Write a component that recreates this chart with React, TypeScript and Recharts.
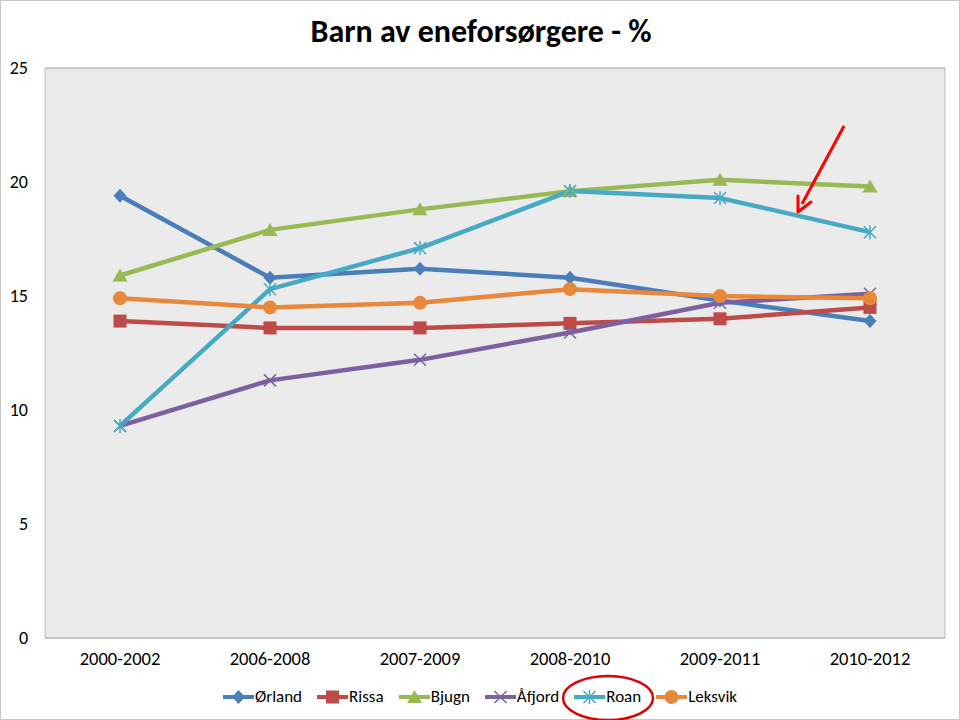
import React from "react";
import {
  LineChart,
  Line,
  CartesianGrid,
  XAxis,
  YAxis,
  Legend,
} from "recharts";

const categories = ["2000-2002", "2006-2008", "2007-2009", "2008-2010", "2009-2011", "2010-2012"];
const orland = [19.4, 15.8, 16.2, 15.8, 14.8, 13.9];
const rissa = [13.9, 13.6, 13.6, 13.8, 14.0, 14.5];
const bjugn = [15.9, 17.9, 18.8, 19.6, 20.1, 19.8];
const afjord = [9.3, 11.3, 12.2, 13.4, 14.7, 15.1];
const roan = [9.3, 15.3, 17.1, 19.6, 19.3, 17.8];
const leksvik = [14.9, 14.5, 14.7, 15.3, 15.0, 14.9];
const yTicks = [0, 5, 10, 15, 20, 25];

const FONT = "Carlito, Calibri, Lato, 'Open Sans', sans-serif";

type Shape = "diamond" | "square" | "triangle" | "x" | "star" | "circle";

const series: { key: string; name: string; color: string; shape: Shape; values: number[] }[] = [
  { key: "orland", name: "Ørland", color: "#4A7EBB", shape: "diamond", values: orland },
  { key: "rissa", name: "Rissa", color: "#BE4B48", shape: "square", values: rissa },
  { key: "bjugn", name: "Bjugn", color: "#98B954", shape: "triangle", values: bjugn },
  { key: "afjord", name: "Åfjord", color: "#7D60A0", shape: "x", values: afjord },
  { key: "roan", name: "Roan", color: "#46AAC5", shape: "star", values: roan },
  { key: "leksvik", name: "Leksvik", color: "#E9883B", shape: "circle", values: leksvik },
];

const data = categories.map((c, i) => {
  const row: Record<string, string | number> = { cat: c };
  series.forEach((s) => (row[s.key] = s.values[i]));
  return row;
});

function marker(shape: Shape, color: string, cx: number, cy: number, k?: string) {
  switch (shape) {
    case "diamond":
      return <path key={k} d={`M${cx},${cy - 7}L${cx + 6.5},${cy}L${cx},${cy + 7}L${cx - 6.5},${cy}Z`} fill={color} />;
    case "square":
      return <rect key={k} x={cx - 6.5} y={cy - 6.5} width={13} height={13} fill={color} />;
    case "triangle":
      return <path key={k} d={`M${cx},${cy - 7}L${cx + 7.5},${cy + 6}L${cx - 7.5},${cy + 6}Z`} fill={color} />;
    case "x":
      return (
        <path key={k} d={`M${cx - 6},${cy - 6}L${cx + 6},${cy + 6}M${cx + 6},${cy - 6}L${cx - 6},${cy + 6}`} stroke={color} strokeWidth={1.5} />
      );
    case "star":
      return (
        <path
          key={k}
          d={`M${cx - 6},${cy - 6}L${cx + 6},${cy + 6}M${cx + 6},${cy - 6}L${cx - 6},${cy + 6}M${cx},${cy - 7}L${cx},${cy + 7}`}
          stroke={color}
          strokeWidth={1.5}
        />
      );
    default:
      return <circle key={k} cx={cx} cy={cy} r={7} fill={color} />;
  }
}

const makeDot = (shape: Shape, color: string) => (props: any) => {
  const { cx, cy, index } = props;
  if (cx == null || cy == null) return <g key={index} />;
  return marker(shape, color, cx, cy, `d${index}`);
};

const LegendContent = () => (
  <div
    style={{
      display: "flex",
      justifyContent: "center",
      alignItems: "center",
      fontFamily: FONT,
      fontSize: 17,
      color: "#000",
      lineHeight: "22px",
    }}
  >
    {series.map((s, i) => (
      <div key={s.key} style={{ display: "flex", alignItems: "center", marginRight: i < series.length - 1 ? 15 : 0 }}>
        <svg width={31} height={16} style={{ marginRight: 1 }}>
          <line x1={0} y1={8} x2={31} y2={8} stroke={s.color} strokeWidth={4} />
          {marker(s.shape, s.color, 15.5, 8)}
        </svg>
        <span>{s.name}</span>
      </div>
    ))}
  </div>
);

export default function App() {
  return (
    <div
      style={{
        position: "absolute",
        left: 0,
        top: 0,
        width: 960,
        height: 720,
        background: "#fff",
        boxSizing: "border-box",
        border: "1px solid #c8c8c8",
        fontFamily: FONT,
      }}
    >
      <div
        style={{
          position: "absolute",
          left: 0,
          top: 11,
          width: 960,
          textAlign: "center",
          fontSize: 32,
          fontWeight: 700,
          color: "#000",
          lineHeight: "40px",
        }}
      >
        Barn av eneforsørgere - %
      </div>
      <div style={{ position: "absolute", left: -1, top: -1 }}>
        <LineChart width={960} height={720} data={data} margin={{ top: 68, right: 0, bottom: 10, left: 0 }}>
          <CartesianGrid vertical={false} fill="#EBEBEB" stroke="#A0A0A0" />
          <XAxis
            dataKey="cat"
            height={48}
            padding={{ left: 75, right: 75 }}
            axisLine={{ stroke: "#BDBDBD" }}
            tickLine={false}
            tickSize={6}
            tickMargin={8}
            tick={{ fill: "#000", fontSize: 18.5, fontFamily: FONT }}
            interval={0}
          />
          <YAxis
            yAxisId="l"
            domain={[0, 25]}
            ticks={yTicks}
            width={45}
            axisLine={{ stroke: "#BDBDBD" }}
            tickLine={false}
            tickSize={6}
            tickMargin={11}
            tick={{ fill: "#000", fontSize: 18, fontFamily: FONT }}
          />
          <YAxis
            yAxisId="r"
            orientation="right"
            domain={[0, 25]}
            width={15}
            tick={false}
            tickLine={false}
            axisLine={{ stroke: "#BDBDBD" }}
          />
          <Legend verticalAlign="bottom" height={24} content={<LegendContent />} />
          {series.map((s) => (
            <Line
              key={s.key}
              yAxisId="l"
              type="linear"
              dataKey={s.key}
              name={s.name}
              stroke={s.color}
              strokeWidth={4.5}
              dot={makeDot(s.shape, s.color)}
              activeDot={false}
              isAnimationActive={false}
            />
          ))}
        </LineChart>
      </div>
      <svg width={960} height={720} style={{ position: "absolute", left: 0, top: 0, pointerEvents: "none" }}>
        <line x1={843} y1={125} x2={801} y2={203} stroke="#FF0000" strokeWidth={3} />
        <path d="M797,211L797,195M797,211L810,201" stroke="#FF0000" strokeWidth={3} fill="none" strokeLinecap="round" />
        <ellipse cx={607} cy={697} rx={45} ry={22} fill="none" stroke="#E00000" strokeWidth={2.5} />
      </svg>
    </div>
  );
}
